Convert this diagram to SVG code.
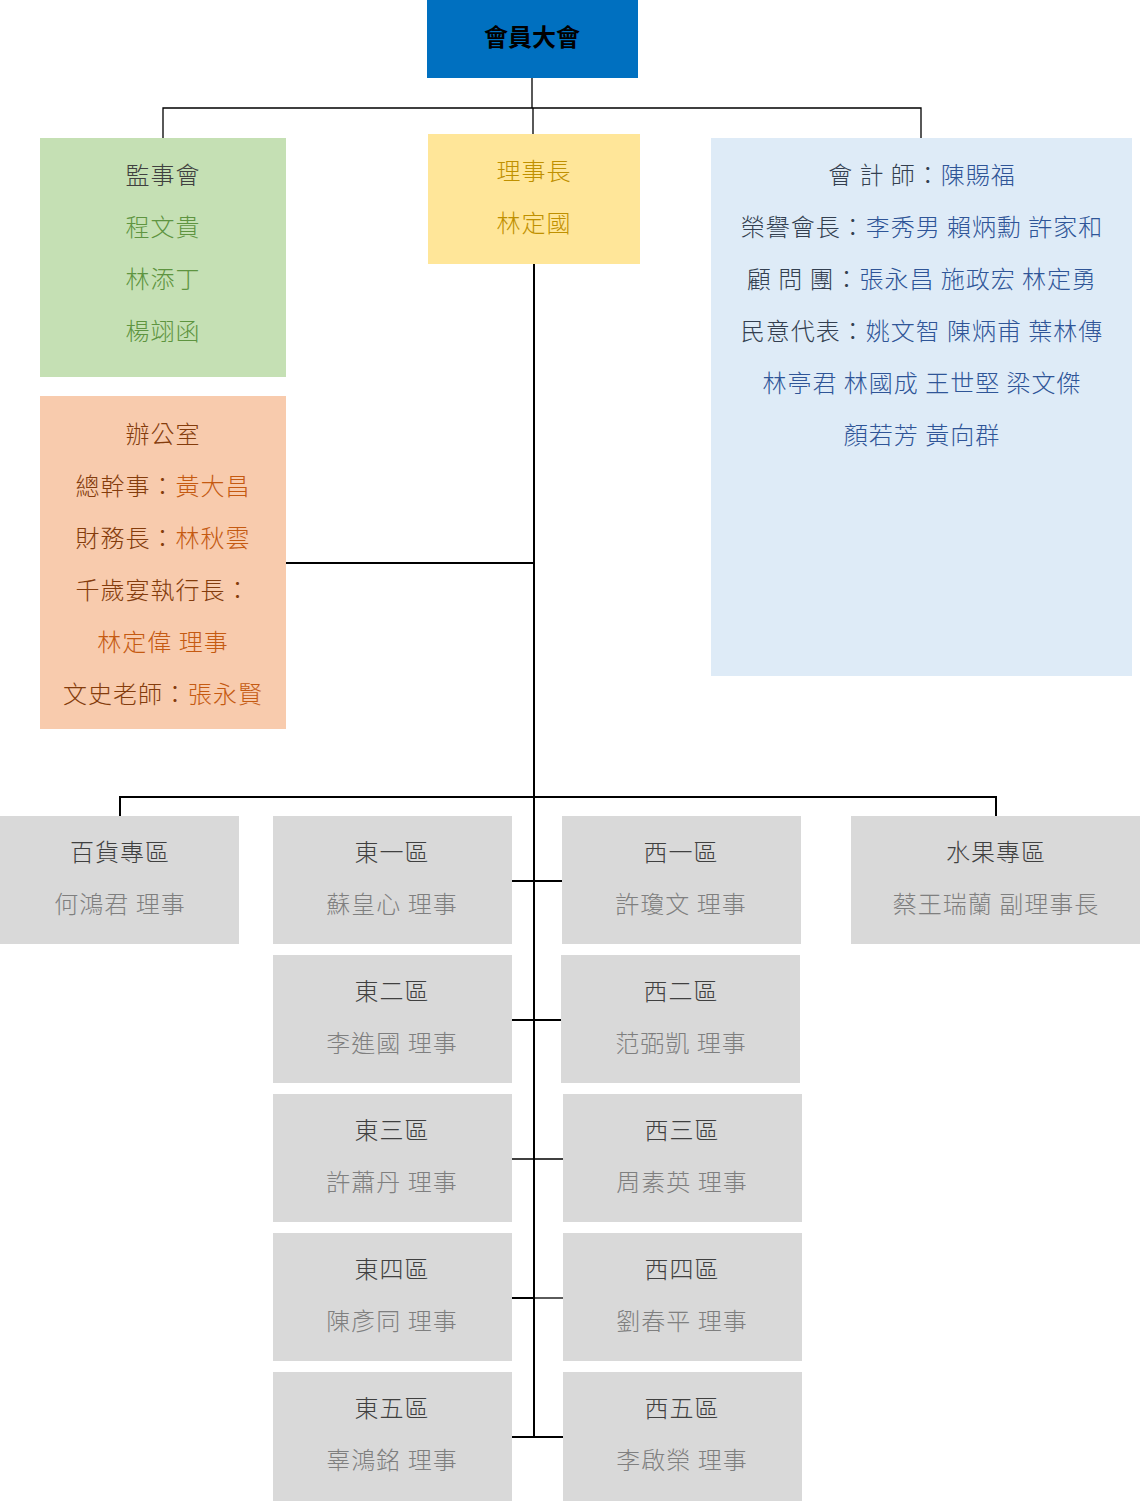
<svg xmlns="http://www.w3.org/2000/svg" width="1140" height="1501" viewBox="0 0 1140 1501">
<style>
text{font-family:"Noto Sans CJK TC","Noto Sans CJK SC",sans-serif;font-size:24px;letter-spacing:1px;font-weight:300;text-anchor:middle}
.ln{stroke:#000;stroke-width:2;fill:none}
.thin{stroke:#000;stroke-width:1.3;fill:none}
.g{fill:#D9D9D9}
.gt{fill:#404040}
.gn{fill:#7F7F7F}
</style>
<rect width="1140" height="1501" fill="#fff"/>
<g id="connectors">
<path class="thin" d="M532 78V108M163 138V108H921V138M533 108V134"/>
<path class="ln" d="M534 264V1437M286 563H534M120 816V797H996V816"/>
<path class="ln" d="M512 881H562M512 1020H561"/>
<path class="thin" d="M512 1159H563"/>
<path class="ln" d="M512 1298H534"/><path class="thin" d="M534 1298H563"/>
<path class="ln" d="M512 1437H563"/>
</g>
<g id="n-assembly"><rect x="427" y="0" width="211" height="78" fill="#0070C0"/><text x="532" y="46" font-weight="bold" style="font-weight:700;letter-spacing:0" fill="#000">會員大會</text></g>
<g id="n-supervisors"><rect x="40" y="138" width="246" height="239" fill="#C5E0B4"/>
<text x="163" y="184" fill="#404040">監事會</text>
<text x="163" y="236" fill="#5E9440">程文貴</text>
<text x="163" y="288" fill="#5E9440">林添丁</text>
<text x="163" y="340" fill="#5E9440">楊翊函</text></g>
<g id="n-chairman"><rect x="428" y="134" width="212" height="130" fill="#FFE699"/>
<text x="534" y="180" fill="#BF9000">理事長</text>
<text x="534" y="232" fill="#BF9000">林定國</text></g>
<g id="n-advisors"><rect x="711" y="138" width="421" height="538" fill="#DEEBF7"/>
<text x="922" y="184"><tspan fill="#333F50">會 計 師：</tspan><tspan fill="#2F5597">陳賜福</tspan></text>
<text x="922" y="236"><tspan fill="#333F50">榮譽會長：</tspan><tspan fill="#2F5597">李秀男 賴炳勳 許家和</tspan></text>
<text x="922" y="288"><tspan fill="#333F50">顧 問 團：</tspan><tspan fill="#2F5597">張永昌 施政宏 林定勇</tspan></text>
<text x="922" y="340"><tspan fill="#333F50">民意代表：</tspan><tspan fill="#2F5597">姚文智 陳炳甫 葉林傳</tspan></text>
<text x="922" y="392" fill="#2F5597">林亭君 林國成 王世堅 梁文傑</text>
<text x="922" y="444" fill="#2F5597">顏若芳 黃向群</text></g>
<g id="n-office"><rect x="40" y="396" width="246" height="333" fill="#F8CBAD"/>
<text x="163" y="443" fill="#843C0C">辦公室</text>
<text x="163" y="495"><tspan fill="#843C0C">總幹事：</tspan><tspan fill="#C55A11">黃大昌</tspan></text>
<text x="163" y="547"><tspan fill="#843C0C">財務長：</tspan><tspan fill="#C55A11">林秋雲</tspan></text>
<text x="163" y="599" fill="#843C0C">千歲宴執行長：</text>
<text x="163" y="651" fill="#C55A11">林定偉 理事</text>
<text x="163" y="703"><tspan fill="#843C0C">文史老師：</tspan><tspan fill="#C55A11">張永賢</tspan></text></g>
<g id="n-dept"><rect class="g" x="0" y="816" width="239" height="128"/><text class="gt" x="120" y="861">百貨專區</text><text class="gn" x="120" y="913">何鴻君 理事</text></g>
<g id="n-e1"><rect class="g" x="273" y="816" width="239" height="128"/><text class="gt" x="392" y="861">東一區</text><text class="gn" x="392" y="913">蘇皇心 理事</text></g>
<g id="n-w1"><rect class="g" x="562" y="816" width="239" height="128"/><text class="gt" x="681" y="861">西一區</text><text class="gn" x="681" y="913">許瓊文 理事</text></g>
<g id="n-fruit"><rect class="g" x="851" y="816" width="289" height="128"/><text class="gt" x="996" y="861">水果專區</text><text class="gn" x="996" y="913">蔡王瑞蘭 副理事長</text></g>
<g id="n-e2"><rect class="g" x="273" y="955" width="239" height="128"/><text class="gt" x="392" y="1000">東二區</text><text class="gn" x="392" y="1052">李進國 理事</text></g>
<g id="n-w2"><rect class="g" x="561" y="955" width="239" height="128"/><text class="gt" x="681" y="1000">西二區</text><text class="gn" x="681" y="1052">范弼凱 理事</text></g>
<g id="n-e3"><rect class="g" x="273" y="1094" width="239" height="128"/><text class="gt" x="392" y="1139">東三區</text><text class="gn" x="392" y="1191">許蕭丹 理事</text></g>
<g id="n-w3"><rect class="g" x="563" y="1094" width="239" height="128"/><text class="gt" x="682" y="1139">西三區</text><text class="gn" x="682" y="1191">周素英 理事</text></g>
<g id="n-e4"><rect class="g" x="273" y="1233" width="239" height="128"/><text class="gt" x="392" y="1278">東四區</text><text class="gn" x="392" y="1330">陳彥同 理事</text></g>
<g id="n-w4"><rect class="g" x="563" y="1233" width="239" height="128"/><text class="gt" x="682" y="1278">西四區</text><text class="gn" x="682" y="1330">劉春平 理事</text></g>
<g id="n-e5"><rect class="g" x="273" y="1372" width="239" height="129"/><text class="gt" x="392" y="1417">東五區</text><text class="gn" x="392" y="1469">辜鴻銘 理事</text></g>
<g id="n-w5"><rect class="g" x="563" y="1372" width="239" height="129"/><text class="gt" x="682" y="1417">西五區</text><text class="gn" x="682" y="1469">李啟榮 理事</text></g>
</svg>
